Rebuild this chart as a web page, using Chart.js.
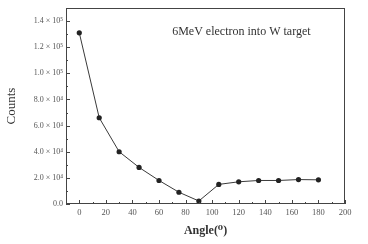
<!DOCTYPE html>
<html><head><meta charset="utf-8">
<script src="https://cdn.jsdelivr.net/npm/chart.js@4/dist/chart.umd.min.js"></script>
<style>html,body{margin:0;padding:0;background:#fff}#wrap{width:368px;height:244px}</style>
</head><body><div id="wrap"><canvas id="c" width="368" height="244"></canvas></div>
<script>
const angles = [0,15,30,45,60,75,90,105,120,135,150,165,180];
const counts = [131000,66000,40000,28000,18000,9000,2300,15000,17000,18000,18000,18700,18500];
const xTickValues = [0,20,40,60,80,100,120,140,160,180,200];
const yTickValues = [0,20000,40000,60000,80000,100000,120000,140000];
const yTickLabels = ['0.0','2.0 × 10⁴','4.0 × 10⁴','6.0 × 10⁴','8.0 × 10⁴','1.0 × 10⁵','1.2 × 10⁵','1.4 × 10⁵'];
const titleText = '6MeV electron into W target';

const serif = '"Liberation Serif", "DejaVu Serif", serif';

const framePlugin = {
  id: 'frame',
  afterDraw(chart) {
    const {ctx, chartArea: a, scales: {x, y}} = chart;
    ctx.save();
    ctx.strokeStyle = '#444';
    ctx.lineWidth = 1;
    ctx.strokeRect(a.left + 0.5, a.top + 0.5, a.right - a.left - 1, a.bottom - a.top - 1);
    ctx.beginPath();
    for (let i = 0; i < xTickValues.length; i++) {
      const v = xTickValues[i];
      const px = Math.round(x.getPixelForValue(v)) + 0.5;
      ctx.moveTo(px, a.bottom); ctx.lineTo(px, a.bottom - 4);
      const m = v + 10;
      if (m < 200) { const pm = Math.round(x.getPixelForValue(m)) + 0.5; ctx.moveTo(pm, a.bottom); ctx.lineTo(pm, a.bottom - 2); }
    }
    for (let i = 0; i < yTickValues.length; i++) {
      const v = yTickValues[i];
      const py = Math.round(y.getPixelForValue(v)) + 0.5;
      ctx.moveTo(a.left, py); ctx.lineTo(a.left + 4, py);
      const m = v + 10000;
      if (m < 150000) { const pm = Math.round(y.getPixelForValue(m)) + 0.5; ctx.moveTo(a.left, pm); ctx.lineTo(a.left + 2, pm); }
    }
    ctx.stroke();
    ctx.fillStyle = '#333';
    ctx.font = '12px ' + serif;
    ctx.textAlign = 'center';
    ctx.textBaseline = 'middle';
    ctx.fillText(titleText, x.getPixelForValue(122), 32);
    ctx.restore();
  }
};

new Chart(document.getElementById('c'), {
  type: 'scatter',
  data: {
    datasets: [{
      data: angles.map((a, i) => ({x: a, y: counts[i]})),
      showLine: true,
      borderColor: '#3a3a3a',
      borderWidth: 1,
      backgroundColor: '#222',
      pointBackgroundColor: '#222',
      pointBorderColor: '#222',
      pointRadius: 2.6,
      pointBorderWidth: 0
    }]
  },
  options: {
    responsive: false,
    animation: false,
    devicePixelRatio: 1,
    layout: {padding: {left: 0, top: 8, right: 23, bottom: 0}},
    plugins: {legend: {display: false}, tooltip: {enabled: false}},
    scales: {
      x: {
        type: 'linear', min: -10, max: 200,
        grid: {display: false, drawTicks: false},
        border: {display: false},
        afterBuildTicks(s) { s.ticks = xTickValues.map(v => ({value: v})); },
        afterFit(s) { s.height = 40; },
        ticks: {color: '#555', font: {family: serif, size: 8.5}, padding: 4, maxRotation: 0, autoSkip: false},
        title: {display: true, text: 'Angle(⁰)', color: '#333', font: {family: serif, size: 12, weight: 'bold'}, padding: {top: 0, bottom: 6}}
      },
      y: {
        type: 'linear', min: 0, max: 150000,
        grid: {display: false, drawTicks: false},
        border: {display: false},
        afterBuildTicks(s) { s.ticks = yTickValues.map(v => ({value: v})); },
        afterFit(s) { s.width = 66; },
        ticks: {color: '#555', font: {family: serif, size: 8}, padding: 3, autoSkip: false,
          callback: (v) => { const i = yTickValues.indexOf(v); return i >= 0 ? yTickLabels[i] : ''; }},
        title: {display: true, text: 'Counts', color: '#333', font: {family: serif, size: 13}, padding: {top: 4, bottom: 0}}
      }
    }
  },
  plugins: [framePlugin]
});
</script></body></html>
